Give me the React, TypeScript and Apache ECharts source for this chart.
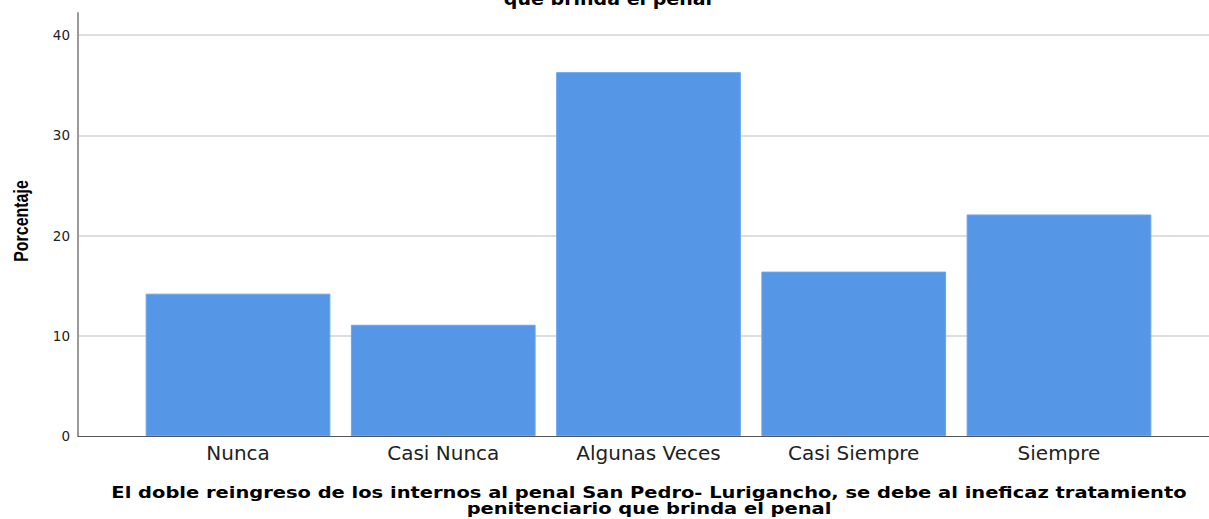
import React, { useEffect, useRef } from "react";
import * as echarts from "echarts";

const categories = ["Nunca", "Casi Nunca", "Algunas Veces", "Casi Siempre", "Siempre"];
const percentages = [14.2, 11.1, 36.3, 16.4, 22.1];
const yTicks = [0, 10, 20, 30, 40];
const topTitle = "que brinda el penal";
const xTitle = "El doble reingreso de los internos al penal San Pedro- Lurigancho, se debe al ineficaz tratamiento\npenitenciario que brinda el penal";
const yTitle = "Porcentaje";

export default function App() {
  const ref = useRef<HTMLDivElement>(null);
  useEffect(() => {
    if (!ref.current) return;
    const chart = echarts.init(ref.current, null, { renderer: "svg" });
    const yMax = 42.2;
    const interval = yTicks[1] - yTicks[0];
    chart.setOption({
      animation: false,
      backgroundColor: "#ffffff",
      grid: [
        { left: 78, right: 0, top: 13, bottom: 83 },
        { left: 135.4, right: 47.4, top: 13, bottom: 83 },
      ],
      xAxis: [
        {
          gridIndex: 0,
          type: "category",
          data: categories,
          axisLine: { show: true, lineStyle: { color: "#555555", width: 1 } },
          axisTick: { show: false },
          axisLabel: { show: false },
          splitLine: { show: false },
        },
        {
          gridIndex: 1,
          type: "category",
          data: categories,
          axisLine: { show: false },
          axisTick: { show: false },
          axisLabel: {
            margin: 7,
            fontFamily: "DejaVu Sans, Verdana, sans-serif",
            fontSize: 20,
            color: "#222222",
          },
        },
      ],
      yAxis: [
        {
          gridIndex: 0,
          type: "value",
          min: yTicks[0],
          max: yMax,
          interval,
          axisLine: { show: true, lineStyle: { color: "#9a9a9a", width: 2 } },
          axisTick: { show: false },
          axisLabel: {
            showMaxLabel: false,
            margin: 8,
            fontFamily: "DejaVu Sans, Verdana, sans-serif",
            fontSize: 13.5,
            color: "#222222",
            formatter: (v: number) => (yTicks.includes(v) ? String(v) : ""),
          },
          splitLine: {
            show: true,
            showMinLine: false,
            showMaxLine: false,
            lineStyle: { color: "#d3d3d3", width: 1.5 },
          },
        },
        {
          gridIndex: 1,
          type: "value",
          min: yTicks[0],
          max: yMax,
          interval,
          show: false,
          splitLine: { show: false },
        },
      ],
      series: [
        {
          type: "bar",
          xAxisIndex: 1,
          yAxisIndex: 1,
          data: percentages,
          barCategoryGap: "10%",
          itemStyle: { color: "#5596e6", borderColor: "#6aa5ec", borderWidth: 1 },
        },
      ],
      graphic: [
        {
          type: "text",
          x: 608,
          y: -1,
          scaleX: 1.12,
          style: {
            text: topTitle,
            fontFamily: "DejaVu Sans, sans-serif",
            fontWeight: "bold",
            fontSize: 17,
            fill: "#000000",
            textAlign: "center",
            textVerticalAlign: "middle",
          },
        },
        {
          type: "text",
          x: 649,
          y: 500,
          scaleX: 1.18,
          style: {
            text: xTitle,
            fontFamily: "DejaVu Sans, sans-serif",
            fontWeight: "bold",
            fontSize: 16.5,
            lineHeight: 16,
            fill: "#000000",
            textAlign: "center",
            textVerticalAlign: "middle",
          },
        },
        {
          type: "text",
          x: 21,
          y: 221,
          rotation: Math.PI / 2,
          scaleX: 0.76,
          style: {
            text: yTitle,
            fontFamily: "Liberation Sans, Arial, sans-serif",
            fontWeight: "bold",
            fontSize: 21,
            fill: "#000000",
            textAlign: "center",
            textVerticalAlign: "middle",
          },
        },
      ],
    });
    return () => chart.dispose();
  }, []);
  return (
    <div
      ref={ref}
      style={{ position: "fixed", left: 0, top: 0, width: 1209, height: 519, background: "#fff" }}
    />
  );
}
